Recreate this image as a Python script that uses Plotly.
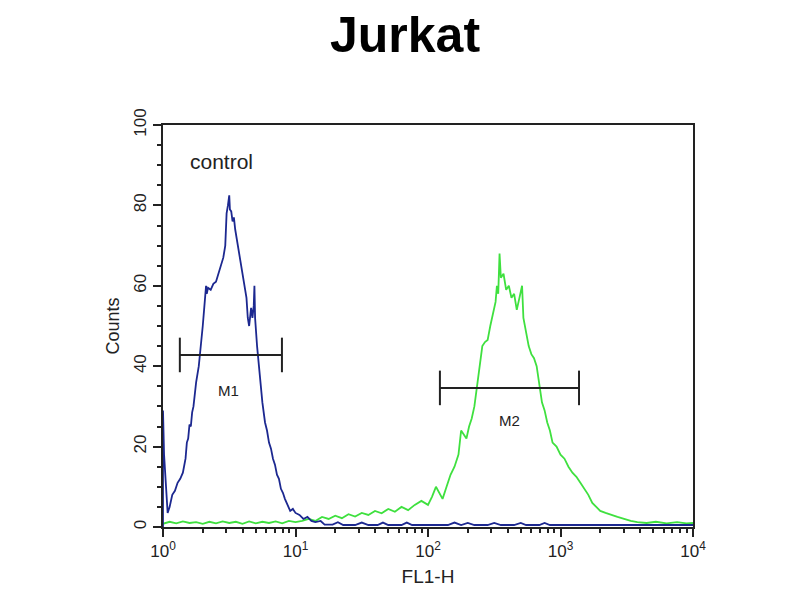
import math
import plotly.graph_objects as go

# ---- data ----
blue_log = [0.0, 0.0, 0.008, 0.02, 0.035, 0.05, 0.07, 0.09, 0.11, 0.13, 0.15, 0.17, 0.18, 0.19, 0.20, 0.21,
            0.22, 0.23, 0.25, 0.27, 0.28, 0.30, 0.31, 0.32, 0.325, 0.33, 0.34, 0.36, 0.38, 0.40, 0.42, 0.44,
            0.455, 0.47, 0.475, 0.48, 0.49, 0.50, 0.505, 0.515, 0.525, 0.535, 0.545, 0.56, 0.58, 0.60, 0.62,
            0.63, 0.64, 0.65, 0.66, 0.665, 0.675, 0.685, 0.69, 0.695, 0.71, 0.73, 0.75, 0.77, 0.785, 0.80,
            0.815, 0.83, 0.845, 0.86, 0.875, 0.89, 0.905, 0.92, 0.94, 0.96, 0.98, 1.00, 1.03, 1.06, 1.09,
            1.12, 1.15, 1.19, 1.22, 1.28, 1.32, 1.36, 1.45, 1.50, 1.55, 1.62, 1.66, 1.70, 1.80, 1.84, 1.88,
            2.15, 2.20, 2.25, 2.30, 2.35, 2.45, 2.50, 2.55, 2.65, 2.70, 2.74, 2.84, 2.88, 2.92, 3.00, 3.50, 4.00]
blue_counts = [0, 29, 18, 10, 3.5, 5, 8, 9, 11, 12, 13.5, 17, 21, 22, 25.5, 25,
               28.5, 30, 36, 40, 43, 50, 54, 57, 60, 58, 59.5, 59, 60.5, 61, 63, 65.5,
               67, 70, 74, 78, 80, 82.5, 79, 78.5, 76, 77, 74, 71, 67.5, 64, 60,
               57, 52, 50, 53, 54.5, 52, 55, 60, 52, 45, 37, 31, 26, 24, 21,
               19.5, 17, 15.5, 13, 12, 9.5, 8.5, 7, 5.5, 4, 4.5, 3.5, 3, 2, 2.5,
               1.5, 1.2, 1.5, 0.6, 0.6, 1.2, 0.5, 0.5, 1.1, 0.5, 0.5, 1.1, 0.5, 0.5, 1.1, 0.5,
               0.5, 1.1, 0.5, 1.0, 0.5, 0.5, 1.0, 0.5, 0.5, 1.0, 0.5, 0.5, 1.0, 0.5, 0.5, 0.5, 0.5]

green_log = [0.0, 0.05, 0.10, 0.15, 0.20, 0.25, 0.30, 0.35, 0.40, 0.45, 0.50, 0.55, 0.60, 0.65, 0.70, 0.75,
             0.80, 0.85, 0.90, 0.95, 1.00, 1.05, 1.10, 1.15, 1.20, 1.25, 1.30, 1.35, 1.40, 1.45, 1.50, 1.55,
             1.60, 1.65, 1.70, 1.75, 1.80, 1.85, 1.90, 1.95, 2.00, 2.03, 2.06, 2.09, 2.11, 2.14, 2.17, 2.20,
             2.23, 2.25, 2.27, 2.29, 2.31, 2.33, 2.35, 2.37, 2.39, 2.41, 2.43, 2.45, 2.47, 2.49, 2.51, 2.52,
             2.53, 2.54, 2.55, 2.57, 2.59, 2.61, 2.63, 2.65, 2.67, 2.69, 2.71, 2.72, 2.74, 2.76, 2.78, 2.80,
             2.82, 2.84, 2.86, 2.88, 2.90, 2.92, 2.94, 2.97, 3.00, 3.03, 3.06, 3.09, 3.12, 3.15, 3.18, 3.21,
             3.24, 3.27, 3.30, 3.34, 3.38, 3.43, 3.48, 3.53, 3.58, 3.65, 3.72, 3.80, 3.88, 3.95, 4.00]
green_counts = [0.8, 1.3, 0.9, 1.4, 1.0, 1.2, 0.8, 1.3, 0.9, 1.4, 1.0, 1.3, 0.8, 1.4, 0.9, 1.3,
                1.0, 1.4, 0.9, 1.5, 1.2, 1.5, 2.0, 1.5, 2.5, 2.0, 2.8, 2.2, 3.2, 2.6, 3.5, 3.0,
                4.0, 3.4, 4.5, 3.8, 5.0, 4.2, 5.5, 6.5, 5.5, 7.5, 10, 8, 7, 10, 13, 15,
                18, 24, 23, 22, 25, 27, 30, 35, 40, 45, 46, 46.5, 50, 53, 56, 60,
                58, 68, 62, 63, 59, 60, 57, 58, 54, 57, 60, 52, 48, 45, 43, 42,
                40, 35, 31, 29, 26, 24, 21, 20, 18, 17, 15, 13.5, 12.5, 11, 9.5, 8,
                6, 5, 4, 3.5, 3, 2.5, 2, 1.5, 1.2, 1.0, 1.3, 0.9, 1.2, 0.9, 1.0]

x_tick_vals = [1, 10, 100, 1000, 10000]
x_tick_text = ["10<sup>0</sup>", "10<sup>1</sup>", "10<sup>2</sup>", "10<sup>3</sup>", "10<sup>4</sup>"]
y_tick_vals = [0, 20, 40, 60, 80, 100]

gates = [
    # name, range (FL1-H), level (counts), label position (FL1-H, counts)
    ("M1", [1.34, 7.9], 42.8, (3.1, 34.0)),
    ("M2", [123, 1380], 34.6, (415, 26.4)),
]

FONT = "Liberation Sans, Arial, sans-serif"
INK = "#222222"

fig = go.Figure()
fig.add_trace(go.Scatter(x=[10 ** v for v in green_log], y=green_counts, mode="lines",
                         line=dict(color="#3fe03f", width=1.8), showlegend=False))
fig.add_trace(go.Scatter(x=[10 ** v for v in blue_log], y=blue_counts, mode="lines",
                         line=dict(color="#1c2890", width=1.8), showlegend=False))

for name, rng, lvl, (lx, ly) in gates:
    fig.add_trace(go.Scatter(x=rng, y=[lvl, lvl], mode="lines", line=dict(color=INK, width=2),
                             showlegend=False))
    for xv in rng:
        fig.add_trace(go.Scatter(x=[xv, xv], y=[lvl - 4.3, lvl + 4.3], mode="lines",
                                 line=dict(color=INK, width=2), showlegend=False))
    fig.add_annotation(x=math.log10(lx), y=ly, xref="x", yref="y", text=name, showarrow=False,
                       font=dict(family=FONT, size=15, color=INK))

fig.add_annotation(x=0.111, y=0.908, xref="x domain", yref="y domain", text="control", showarrow=False,
                   xanchor="center", yanchor="middle",
                   font=dict(family=FONT, size=21, color=INK))

W, H = 792, 592
fig.update_layout(
    width=W, height=H,
    paper_bgcolor="white", plot_bgcolor="white",
    margin=dict(l=155, r=107, t=117, b=73, autoexpand=False),
    title=dict(text="<b>Jurkat</b>", x=397 / W, xanchor="center", y=1 - 26 / H, yanchor="middle",
               font=dict(family=FONT, size=50, color="black")),
    font=dict(family=FONT, color=INK),
)
fig.update_xaxes(type="log", range=[0, 4], tickvals=x_tick_vals, ticktext=x_tick_text,
                 showline=True, linecolor=INK, linewidth=2, mirror=True,
                 ticks="outside", ticklen=8, tickwidth=1.5, tickcolor=INK,
                 minor=dict(ticks="outside", ticklen=4, tickcolor=INK, dtick="D1"),
                 showgrid=False, zeroline=False, tickfont=dict(size=17, color=INK),
                 title=dict(text="FL1-H", font=dict(size=19, color=INK), standoff=9))
fig.update_yaxes(range=[0, 100], tickvals=y_tick_vals, tickangle=-90,
                 showline=True, linecolor=INK, linewidth=2, mirror=True,
                 ticks="outside", ticklen=8, tickwidth=1.5, tickcolor=INK,
                 minor=dict(ticks="outside", ticklen=4, tickcolor=INK, dtick=5),
                 showgrid=False, zeroline=False, tickfont=dict(size=17, color=INK),
                 title=dict(text="Counts", font=dict(size=18, color=INK), standoff=7))

fig.write_html("out.html")
